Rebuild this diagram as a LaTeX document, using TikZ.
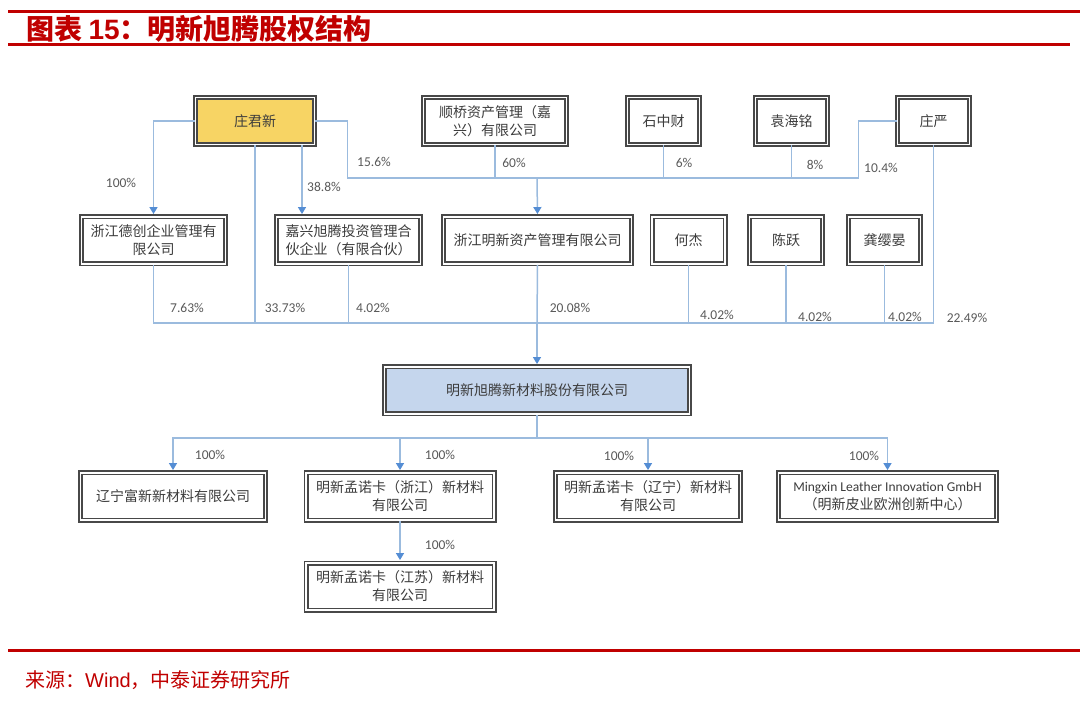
\documentclass[tikz,border=0pt]{standalone}
\usepackage{fontspec}
\setmainfont{Carlito}
\newfontfamily\cjk{Noto Sans CJK SC}
\newfontfamily\arialfont{Liberation Sans}
\usetikzlibrary{arrows.meta}
\definecolor{linkblue}{RGB}{155,187,222}
\definecolor{tipblue}{RGB}{84,141,212}
\definecolor{framegray}{RGB}{72,72,72}
\definecolor{textgray}{RGB}{60,60,60}
\definecolor{pctgray}{RGB}{89,89,89}
\definecolor{reportred}{RGB}{192,0,0}
\definecolor{ownergold}{RGB}{247,212,100}
\definecolor{listedblue}{RGB}{197,214,237}
\tikzset{
  holder/.style={draw=framegray, double=white, line width=1.9pt, double distance=1.2pt,
    fill=white, align=center, inner sep=0pt, text=textgray,
    font=\cjk\fontsize{14}{18}\selectfont, minimum height=47pt},
  pct/.style={text=pctgray, inner sep=0pt, font=\fontsize{13.5}{15}\selectfont},
  link/.style={draw=linkblue, line width=1.5pt},
  stake/.style={link, -{Triangle[width=8pt,length=7pt,color=tipblue]}, shorten >=2pt},
}
\begin{document}
\begin{tikzpicture}[x=1pt,y=-1pt]
\useasboundingbox (0,0) rectangle (1080,703);

% title
\draw[reportred, line width=3pt] (8,11.7) -- (1080,11.7);
\draw[reportred, line width=3pt] (8,45) -- (1070,45);
\node[anchor=west, text=reportred, inner sep=0pt] (title) at (26,29)
  {\cjk\bfseries\fontsize{28}{30}\selectfont 图表 {\arialfont\bfseries 15}：明新旭腾股权结构};

% shareholders
\node[holder, fill=ownergold, minimum width=119pt] (zjx) at (255,121) {庄君新};
\node[holder, minimum width=143pt] (sq) at (495,121) {顺桥资产管理（嘉\\兴）有限公司};
\node[holder, minimum width=72pt] (szc) at (663.5,121) {石中财};
\node[holder, minimum width=72pt] (yhm) at (791.5,121) {袁海铭};
\node[holder, minimum width=72pt] (zy) at (933.5,121) {庄严};

\node[holder, minimum width=144pt] (dc) at (153.5,240.5) {浙江德创企业管理有\\限公司};
\node[holder, minimum width=144pt] (jx) at (348.5,240.5) {嘉兴旭腾投资管理合\\伙企业（有限合伙）};
\node[holder, minimum width=188pt] (mxzc) at (537.5,240.5) {浙江明新资产管理有限公司};
\node[holder, minimum width=73pt] (hj) at (688.5,240.5) {何杰};
\node[holder, minimum width=73pt] (cy) at (786,240.5) {陈跃};
\node[holder, minimum width=72pt] (gyy) at (884.5,240.5) {龚缨晏};

% company and subsidiaries
\node[holder, fill=listedblue, minimum width=305pt] (mxxt) at (537,390.5) {明新旭腾新材料股份有限公司};

\node[holder, minimum width=185pt] (lnfx) at (173,496.5) {辽宁富新新材料有限公司};
\node[holder, minimum width=188pt] (mzj) at (400,496.5) {明新孟诺卡（浙江）新材料\\有限公司};
\node[holder, minimum width=188pt] (mjs) at (400,586.5) {明新孟诺卡（江苏）新材料\\有限公司};
\node[holder, minimum width=185pt] (mln) at (648,496.5) {明新孟诺卡（辽宁）新材料\\有限公司};
\node[holder, minimum width=218pt] (gmbh) at (887.5,496.5)
  {{\normalfont\fontsize{13.5}{18}\selectfont Mingxin Leather Innovation GmbH}\\（明新皮业欧洲创新中心）};

\coordinate (bus1) at (537,178);
\coordinate (bus2) at (537,323);
\coordinate (bus3) at (537,438);

% upper level
\draw[stake] (zjx.west) -| (dc.north);
\draw[stake] ([xshift=47pt]zjx.south) -- ([xshift=47pt]zjx.south |- jx.north);
\draw[link] (zjx.east) -- ++(32,0) |- (bus1);
\draw[link] (sq.south) -- (sq.south |- bus1);
\draw[link] (szc.south) |- (bus1);
\draw[link] (yhm.south) |- (bus1);
\draw[link] (zy.west) -- ++(-38,0) |- (bus1);
\draw[stake] (bus1) -- (mxzc.north);

% into the company
\draw[link] (dc.south) |- (bus2);
\draw[link] (zjx.south) |- (bus2);
\draw[link] (jx.south) |- (bus2);
\draw[link] (mxzc.south) -- (bus2);
\draw[link] (hj.south) |- (bus2);
\draw[link] (cy.south) |- (bus2);
\draw[link] (gyy.south) |- (bus2);
\draw[link] (zy.south) |- (bus2);
\draw[stake] (bus2) -- (mxxt.north);

% subsidiaries
\draw[link] (mxxt.south) -- (bus3);
\draw[stake] (bus3) -| (lnfx.north);
\draw[stake] (bus3) -| (mzj.north);
\draw[stake] (bus3) -| (mln.north);
\draw[stake] (bus3) -| (gmbh.north);
\draw[stake] (mzj.south) -- (mjs.north);

% percentages
\node[pct] (p1) at (121,183) {100\%};
\node[pct] (p2) at (324,187) {38.8\%};
\node[pct] (p3) at (374,162) {15.6\%};
\node[pct] (p4) at (514,163) {60\%};
\node[pct] (p5) at (684,163) {6\%};
\node[pct] (p6) at (815,165) {8\%};
\node[pct] (p7) at (881,168) {10.4\%};
\node[pct] (p8) at (187,308) {7.63\%};
\node[pct] (p9) at (285,308) {33.73\%};
\node[pct] (p10) at (373,308) {4.02\%};
\node[pct] (p11) at (570,308) {20.08\%};
\node[pct] (p12) at (717,315) {4.02\%};
\node[pct] (p13) at (815,317) {4.02\%};
\node[pct] (p14) at (905,317) {4.02\%};
\node[pct] (p15) at (967,318) {22.49\%};
\node[pct] (p16) at (210,455) {100\%};
\node[pct] (p17) at (440,455) {100\%};
\node[pct] (p18) at (619,456) {100\%};
\node[pct] (p19) at (864,456) {100\%};
\node[pct] (p20) at (440,545) {100\%};

% source
\draw[reportred, line width=3pt] (8,650) -- (1080,650);
\node[anchor=west, text=reportred, inner sep=0pt] (src) at (25,680)
  {\cjk\fontsize{20}{22}\selectfont 来源：{\arialfont Wind}，中泰证券研究所};
\end{tikzpicture}
\end{document}
